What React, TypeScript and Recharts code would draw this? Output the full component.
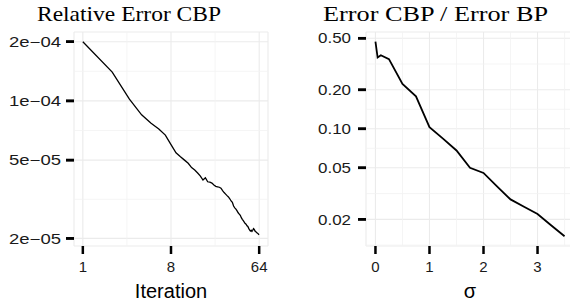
import { CartesianGrid, Label, Line, LineChart, ReferenceLine, XAxis, YAxis } from 'recharts';

// left panel: relative error of CBP per iteration (log2 x, log10 y)
const ITERATIONS = [
  1, 2, 3, 4, 5, 6, 7, 8, 9, 10, 11, 12, 13, 14, 15, 16,
  17, 18, 19, 20, 21, 22, 23, 24, 25, 26, 27, 28, 29, 30, 31, 32,
  33, 34, 35, 36, 37, 38, 39, 40, 41, 42, 43, 44, 45, 46, 47, 48,
  49, 50, 51, 52, 53, 54, 55, 56, 57, 58, 59, 60, 61, 62, 63, 64,
];
const REL_ERROR = [
  2.0e-4, 1.4e-4, 1.02e-4, 8.5e-5, 7.7e-5, 7.2e-5, 6.7e-5, 6.0e-5,
  5.45e-5, 5.2e-5, 5.0e-5, 4.82e-5, 4.58e-5, 4.45e-5, 4.3e-5, 4.15e-5,
  3.96e-5, 4.07e-5, 3.88e-5, 3.86e-5, 3.82e-5, 3.74e-5, 3.68e-5, 3.66e-5,
  3.64e-5, 3.6e-5, 3.5e-5, 3.42e-5, 3.36e-5, 3.3e-5, 3.25e-5, 3.18e-5,
  3.1e-5, 3.05e-5, 2.92e-5, 2.86e-5, 2.82e-5, 2.76e-5, 2.7e-5, 2.66e-5,
  2.62e-5, 2.55e-5, 2.5e-5, 2.46e-5, 2.42e-5, 2.38e-5, 2.36e-5, 2.32e-5,
  2.3e-5, 2.25e-5, 2.21e-5, 2.18e-5, 2.2e-5, 2.17e-5, 2.2e-5, 2.24e-5,
  2.22e-5, 2.18e-5, 2.16e-5, 2.15e-5, 2.13e-5, 2.12e-5, 2.1e-5, 2.09e-5,
];
const LEFT_X_TICKS = [1, 8, 64];
const LEFT_X_MINOR = [2.828, 22.63];
const LEFT_Y_TICKS = [2e-5, 5e-5, 1e-4, 2e-4];
const LEFT_Y_LABELS = ['2e\u221205', '5e\u221205', '1e\u221204', '2e\u221204'];
const LEFT_Y_MINOR = [3.162e-5, 7.071e-5, 1.414e-4];

// right panel: error ratio vs sigma
const SIGMA = [0, 0.04, 0.1, 0.25, 0.5, 0.75, 1, 1.25, 1.5, 1.75, 2, 2.25, 2.5, 2.75, 3, 3.25, 3.5];
const RATIO = [0.47, 0.355, 0.37, 0.345, 0.222, 0.178, 0.103, 0.084, 0.068, 0.05, 0.0456, 0.036, 0.0285, 0.025, 0.022, 0.018, 0.0148];
const RIGHT_X_TICKS = [0, 1, 2, 3];
const RIGHT_X_MINOR = [0.5, 1.5, 2.5, 3.5];
const RIGHT_Y_TICKS = [0.02, 0.05, 0.1, 0.2, 0.5];
const RIGHT_Y_LABELS = ['0.02', '0.05', '0.10', '0.20', '0.50'];
const RIGHT_Y_MINOR = [0.01265, 0.03162, 0.07071, 0.1414, 0.3162];

const leftData = ITERATIONS.map((it, i) => ({ it, err: REL_ERROR[i] }));
const rightData = SIGMA.map((s, i) => ({ s, r: RATIO[i] }));

const SANS = 'Liberation Sans, Arial, sans-serif';
const SERIF = 'Liberation Serif, Times New Roman, serif';
const GRID = '#ebebeb';
const MINOR = '#f3f3f3';
const INK = '#1a1a1a';
const TICK_LEN = 8;

function LeftYTick(props: any) {
  return <YTickMark {...props} ticks={LEFT_Y_TICKS} labels={LEFT_Y_LABELS} len={52} gap={5} />;
}
function RightYTick(props: any) {
  return <YTickMark {...props} ticks={RIGHT_Y_TICKS} labels={RIGHT_Y_LABELS} len={33} gap={7} />;
}

// y tick: label plus the dash, placed from the position the axis hands over
function YTickMark(props: any) {
  const x = Number(props.x);
  const y = Number(props.y);
  const idx = props.ticks.indexOf(props.payload.value);
  return (
    <g>
      <rect x={x + props.gap} y={y - 1.3} width={TICK_LEN} height={2.6} fill="#000" />
      <text x={x} y={y} dy="0.36em" textAnchor="end" fontSize={14.5} fontFamily={SANS} fill={INK}
        textLength={props.len} lengthAdjust="spacingAndGlyphs">
        {idx >= 0 ? props.labels[idx] : props.payload.value}
      </text>
    </g>
  );
}

function XTick(props: any) {
  const { x, y, payload } = props;
  return (
    <text x={x} y={y} dy="0.71em" textAnchor="middle" fontSize={15} fontFamily={SANS} fill={INK}>
      {payload.value}
    </text>
  );
}

const tickLine = { stroke: '#000', strokeWidth: 2.5 };
const noAxis = { stroke: 'none' };

export default function App() {
  return (
    <div style={{ position: 'fixed', left: 0, top: 0, width: 570, height: 302, background: '#fff' }}>
      <div style={{ display: 'flex', width: 580 }}>
        <LineChart width={290} height={302} data={leftData} margin={{ top: 32, right: 22, bottom: 0, left: 0 }}>
          <CartesianGrid stroke={GRID} strokeWidth={1.1} />
          {LEFT_X_MINOR.map(v => <ReferenceLine key={'lx' + v} x={v} stroke={MINOR} strokeWidth={0.8} />)}
          {LEFT_Y_MINOR.map(v => <ReferenceLine key={'ly' + v} y={v} stroke={MINOR} strokeWidth={0.8} />)}
          <XAxis dataKey="it" type="number" scale="log" domain={[0.812, 78.8]} allowDataOverflow ticks={LEFT_X_TICKS}
            axisLine={noAxis} tickSize={TICK_LEN} tickMargin={7} tickLine={tickLine} tick={XTick} height={56} interval={0}>
            <Label value="Iteration" position="insideBottom" offset={4} fontSize={20} fontFamily={SANS} fill="#000" />
          </XAxis>
          <YAxis type="number" scale="log" domain={[1.83e-5, 2.24e-4]} allowDataOverflow ticks={LEFT_Y_TICKS}
            axisLine={noAxis} tickSize={TICK_LEN} tickMargin={5} tickLine={tickLine} width={74} interval={0}
            tick={LeftYTick} />
          <Line dataKey="err" stroke="#000" strokeWidth={1.3} dot={false} isAnimationActive={false} />
        </LineChart>
        <LineChart width={290} height={302} data={rightData} margin={{ top: 32, right: 6, bottom: 0, left: 0 }}>
          <CartesianGrid stroke={GRID} strokeWidth={1.1} />
          {RIGHT_X_MINOR.map(v => <ReferenceLine key={'rx' + v} x={v} stroke={MINOR} strokeWidth={0.8} />)}
          {RIGHT_Y_MINOR.map(v => <ReferenceLine key={'ry' + v} y={v} stroke={MINOR} strokeWidth={0.8} />)}
          <XAxis dataKey="s" type="number" domain={[-0.175, 3.675]} allowDataOverflow ticks={RIGHT_X_TICKS}
            axisLine={noAxis} tickSize={TICK_LEN} tickMargin={7} tickLine={tickLine} tick={XTick} height={56} interval={0}>
            <Label value="σ" position="insideBottom" offset={4} fontSize={20} fontFamily={SANS} fill="#000" />
          </XAxis>
          <YAxis type="number" scale="log" domain={[0.01245, 0.5588]} allowDataOverflow ticks={RIGHT_Y_TICKS}
            axisLine={noAxis} tickSize={TICK_LEN} tickMargin={7} tickLine={tickLine} width={76} interval={0}
            tick={RightYTick} />
          <Line dataKey="r" stroke="#000" strokeWidth={1.8} dot={false} isAnimationActive={false} />
        </LineChart>
      </div>
      <svg width={570} height={30} style={{ position: 'absolute', left: 0, top: 0, pointerEvents: 'none' }}>
        <text x={37} y={21} fontSize={22} fontFamily={SERIF} fill="#000" textLength={184} lengthAdjust="spacingAndGlyphs">
          Relative Error CBP
        </text>
        <text x={323} y={21} fontSize={22} fontFamily={SERIF} fill="#000" textLength={225} lengthAdjust="spacingAndGlyphs">
          Error CBP / Error BP
        </text>
      </svg>
    </div>
  );
}
